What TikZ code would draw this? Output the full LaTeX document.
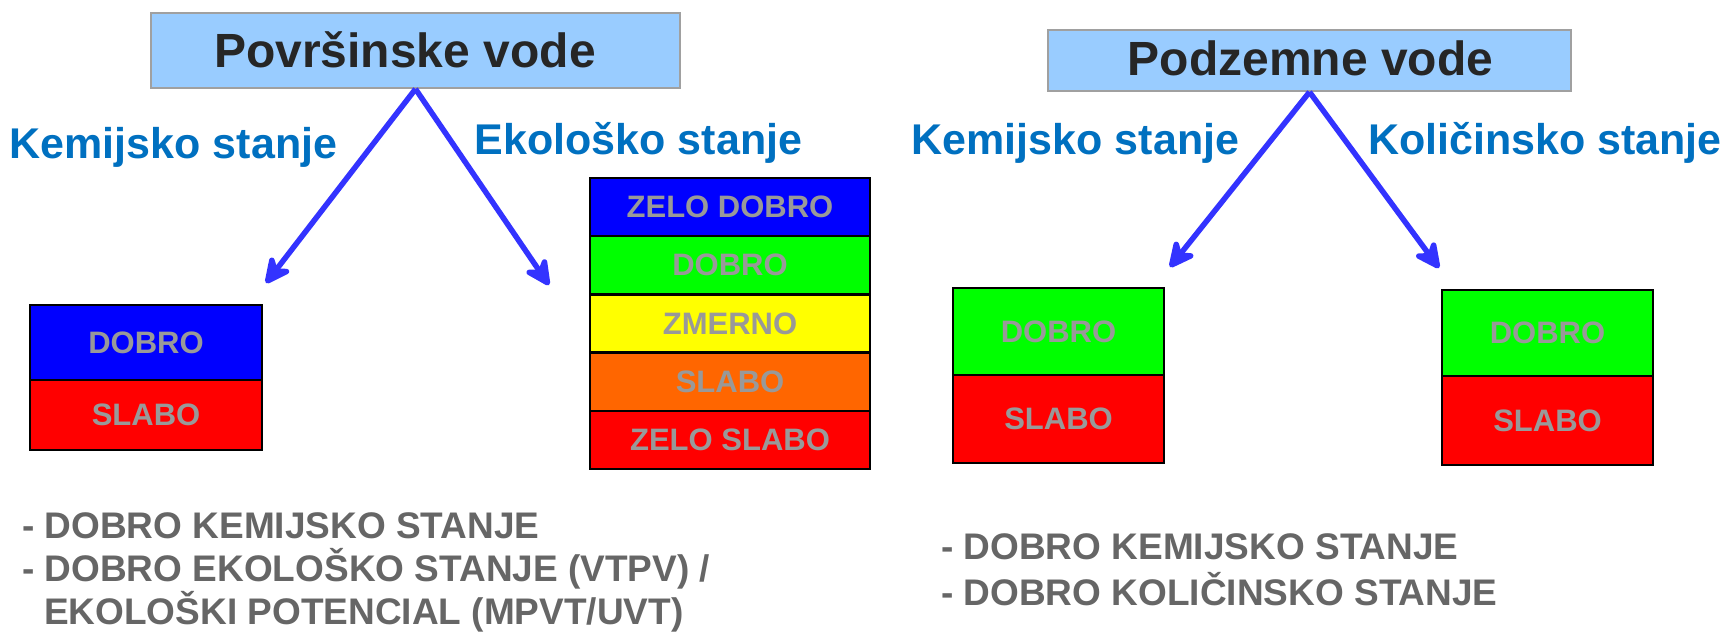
\documentclass[tikz,border=0pt]{standalone}
\usepackage{fontspec}
\setmainfont{Liberation Sans}
\usetikzlibrary{arrows.meta}
\definecolor{titlefill}{HTML}{99CCFF}
\definecolor{titleborder}{HTML}{A0A0A0}
\definecolor{titletext}{HTML}{262626}
\definecolor{labelblue}{HTML}{0070C0}
\definecolor{arrowblue}{HTML}{3333FF}
\definecolor{boxtext}{HTML}{999999}
\definecolor{notetext}{HTML}{666666}
\definecolor{cblue}{HTML}{0000FF}
\definecolor{cgreen}{HTML}{00FF00}
\definecolor{cyellow}{HTML}{FFFF00}
\definecolor{corange}{HTML}{FF6600}
\definecolor{cred}{HTML}{FF0000}
\tikzset{
  titlebox/.style={draw=titleborder, line width=2pt, fill=titlefill, inner sep=0pt},
  titletxt/.style={inner sep=0pt, text=titletext, font=\fontsize{48}{50}\selectfont\bfseries},
  statelabel/.style={anchor=base, inner sep=0pt, text=labelblue,
    font=\fontsize{43}{46}\selectfont\bfseries},
  linkarrow/.style={draw=arrowblue, line width=5.5pt,
    -{Stealth[length=33pt, width=32pt, inset=11pt, round]}},
  cell/.style={draw=black, line width=2.5pt, inner sep=0pt, text=boxtext,
    font=\fontsize{31}{34}\selectfont\bfseries},
  note/.style={anchor=base west, inner sep=0pt, text=notetext,
    font=\fontsize{37}{40}\selectfont\bfseries}
}
\begin{document}
\begin{tikzpicture}[x=1pt,y=-1pt]
\useasboundingbox[fill=white] (0,0) rectangle (1726,633);

% title boxes
\node[titlebox, minimum width=529pt, minimum height=75pt] (pv) at (415.5,50.5) {};
\node[titletxt] (pvt) at (405,50) {Površinske vode};
\node[titlebox, minimum width=523pt, minimum height=61pt] (zv) at (1309.5,60.5) {};
\node[titletxt] (zvt) at (1310.5,58) {Podzemne vode};

% labels
\node[statelabel] (kem1) at (173.5,158) {Kemijsko stanje};
\node[statelabel] (eko) at (638.5,154) {Ekološko stanje};
\node[statelabel] (kem2) at (1075.5,154) {Kemijsko stanje};
\node[statelabel] (kol) at (1545,154) {Količinsko stanje};

% arrow ends
\coordinate (t1) at (266,283);
\coordinate (t2) at (549,285);
\coordinate (t3) at (1170,267);
\coordinate (t4) at (1439,268);
\draw[linkarrow] (pv.south) -- (t1);
\draw[linkarrow] (pv.south) -- (t2);
\draw[linkarrow] (zv.south) -- (t3);
\draw[linkarrow] (zv.south) -- (t4);

% left small box
\node[cell, fill=cblue, minimum width=232pt, minimum height=75pt] (a1) at (146,342.5) {DOBRO};
\node[cell, fill=cred, minimum width=232pt, minimum height=70pt] (a2) at (146,415) {SLABO};

% ecological stack
\node[cell, fill=cblue, minimum width=280pt, minimum height=58.2pt] (e1) at (730,207.1) {ZELO DOBRO};
\node[cell, fill=cgreen, minimum width=280pt, minimum height=58.2pt] (e2) at (730,265.3) {DOBRO};
\node[cell, fill=cyellow, minimum width=280pt, minimum height=58.2pt] (e3) at (730,323.5) {ZMERNO};
\node[cell, fill=corange, minimum width=280pt, minimum height=58.2pt] (e4) at (730,381.7) {SLABO};
\node[cell, fill=cred, minimum width=280pt, minimum height=58.2pt] (e5) at (730,439.9) {ZELO SLABO};

% groundwater boxes
\node[cell, fill=cgreen, minimum width=211pt, minimum height=87pt] (b1) at (1058.5,331.5) {DOBRO};
\node[cell, fill=cred, minimum width=211pt, minimum height=88pt] (b2) at (1058.5,419) {SLABO};
\node[cell, fill=cgreen, minimum width=211pt, minimum height=86pt] (c1) at (1547.5,333) {DOBRO};
\node[cell, fill=cred, minimum width=211pt, minimum height=89pt] (c2) at (1547.5,420.5) {SLABO};

% notes
\node[note] (n1) at (22,538) {- DOBRO KEMIJSKO STANJE};
\node[note] (n2) at (22,581) {- DOBRO EKOLOŠKO STANJE (VTPV) /};
\node[note] (n3) at (44,624) {EKOLOŠKI POTENCIAL (MPVT/UVT)};
\node[note] (n4) at (941,559) {- DOBRO KEMIJSKO STANJE};
\node[note] (n5) at (941,605) {- DOBRO KOLIČINSKO STANJE};
\end{tikzpicture}
\end{document}
